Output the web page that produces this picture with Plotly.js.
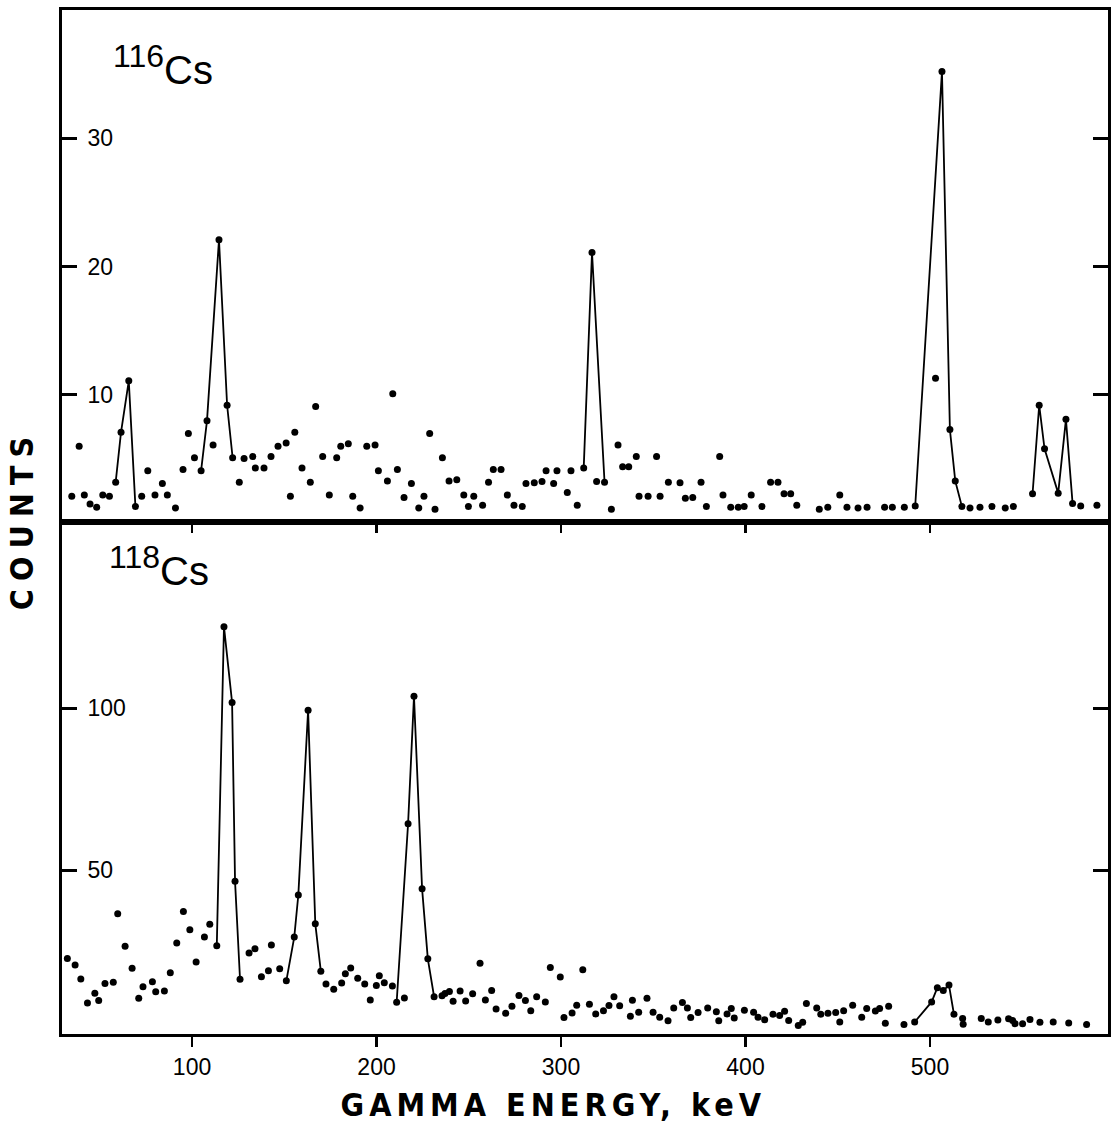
<!DOCTYPE html>
<html>
<head>
<meta charset="utf-8">
<script src="https://cdn.plot.ly/plotly-3.0.1.min.js"></script>
<style>html,body{margin:0;padding:0;background:#fff}#chart{width:1112px;height:1129px}</style>
</head>
<body>
<div id="chart"></div>
<script>
// ---- 116Cs spectrum (top panel) ----
const energy116 = [34.8,38.8,41.6,44.7,48.3,51.6,55.2,58.6,61.5,65.7,69.3,72.7,76.0,79.9,83.9,86.6,91.0,95.1,98.0,101.3,104.9,108.1,111.4,114.6,119.0,122.0,125.6,128.2,132.9,134.3,139.0,142.8,146.6,151.0,153.3,155.7,159.6,164.1,167.0,170.8,174.4,178.4,180.6,184.7,187.1,191.1,194.7,199.2,201.0,205.9,208.8,211.3,214.9,218.9,222.9,225.7,228.8,231.7,235.7,239.3,243.5,247.3,249.8,252.7,257.5,260.7,263.3,267.5,270.9,274.5,279.0,281.0,285.5,289.7,291.9,296.0,297.8,303.4,305.4,308.8,312.3,316.8,319.3,323.6,327.3,330.9,333.4,336.7,340.8,342.3,347.2,351.8,353.7,358.2,364.5,367.4,371.4,375.9,378.8,386.0,387.8,392.0,396.1,399.3,403.1,408.9,413.6,417.6,420.9,424.5,427.8,440.0,444.6,451.1,455.0,461.0,465.9,475.4,479.6,486.1,492.0,503.0,506.5,510.8,513.7,517.3,521.7,527.1,533.6,540.8,545.2,555.6,559.2,562.1,569.5,573.7,577.3,581.7,590.5];
const counts116 = [2.1,6.0,2.2,1.5,1.25,2.2,2.1,3.2,7.1,11.1,1.3,2.1,4.1,2.2,3.1,2.2,1.2,4.2,7.0,5.1,4.1,8.0,6.1,22.1,9.2,5.1,3.2,5.05,5.2,4.3,4.3,5.2,6.0,6.25,2.1,7.1,4.3,3.2,9.1,5.2,2.2,5.1,6.0,6.2,2.1,1.2,6.0,6.1,4.1,3.3,10.1,4.2,2.0,3.1,1.2,2.1,7.0,1.1,5.1,3.3,3.4,2.2,1.3,2.1,1.4,3.2,4.2,4.2,2.2,1.4,1.3,3.1,3.15,3.25,4.1,3.1,4.1,2.4,4.1,1.4,4.3,21.1,3.25,3.2,1.1,6.1,4.4,4.4,5.2,2.1,2.1,5.2,2.1,3.2,3.15,1.95,2.0,3.2,1.3,5.2,2.2,1.25,1.25,1.3,2.2,1.3,3.2,3.2,2.3,2.3,1.4,1.1,1.25,2.2,1.25,1.2,1.25,1.25,1.25,1.25,1.35,11.3,35.2,7.3,3.3,1.3,1.2,1.25,1.3,1.2,1.3,2.3,9.2,5.8,2.35,8.1,1.55,1.35,1.4];
// peak lines (116Cs)
const peakE116 = [[58.6,61.5,65.7,69.3],[104.9,108.1,114.6,119.0,122.0],[312.3,316.8,323.6],[492.0,506.5,510.8,513.7,517.3],[555.6,559.2,562.1,569.5,573.7,577.3]];
const peakC116 = [[3.2,7.1,11.1,1.3],[4.1,8.0,22.1,9.2,5.1],[4.3,21.1,3.2],[1.35,35.2,7.3,3.3,1.3],[2.3,9.2,5.8,2.35,8.1,1.55]];

// ---- 118Cs spectrum (bottom panel) ----
const energy118 = [32.4,36.6,39.7,43.3,47.3,49.4,52.8,57.3,59.7,63.7,67.5,71.1,73.4,78.5,80.3,85.0,88.2,91.7,95.3,98.8,102.2,106.7,109.6,113.4,117.3,121.7,123.3,126.0,130.9,134.1,137.6,141.4,143.0,147.5,151.1,155.4,157.6,162.9,166.8,169.8,172.6,176.8,181.1,183.1,186.0,189.8,193.6,196.6,199.9,201.5,204.2,208.6,210.9,215.1,217.1,220.3,224.7,227.8,231.2,235.5,237.1,239.5,241.5,245.3,248.3,252.1,256.1,259.0,262.4,264.8,270.0,273.4,277.2,280.7,283.6,286.8,291.5,294.2,299.6,301.6,306.0,308.5,311.8,315.4,318.8,323.0,326.0,328.7,331.8,337.6,338.7,342.1,346.6,349.9,353.5,358.0,361.1,365.8,368.5,370.3,374.3,379.5,384.2,385.5,390.0,392.3,393.9,399.4,404.4,406.8,410.4,414.9,418.5,421.2,423.4,428.6,431.0,433.0,438.6,440.8,444.7,448.9,451.1,453.2,458.1,463.0,465.7,470.4,472.7,475.8,477.6,485.9,491.7,500.9,504.0,507.2,510.3,513.0,517.7,518.0,527.8,531.6,536.8,542.6,544.8,546.1,550.2,554.2,559.6,566.8,575.2,584.9];
const counts118 = [22.8,20.8,16.5,9.1,12.1,9.8,15.1,15.5,36.6,26.6,19.8,10.5,14.1,15.6,12.5,12.8,18.4,27.6,37.3,31.7,21.7,29.4,33.4,26.7,125.2,101.8,46.6,16.4,24.5,25.8,17.2,19.0,27.0,19.6,15.9,29.4,42.4,99.4,33.5,18.9,14.9,13.3,15.2,18.1,19.9,16.7,14.9,10.0,14.5,17.5,15.3,14.3,9.3,10.6,64.4,103.7,44.3,22.7,11.0,11.3,12.0,12.6,9.6,12.8,9.7,11.9,21.3,10.0,12.9,7.2,5.9,8.1,11.4,9.8,6.7,11.0,9.4,20.0,17.1,4.6,6.0,8.4,19.3,8.7,5.7,6.7,8.3,11.0,8.2,5.0,9.9,6.2,10.5,6.2,4.7,3.6,7.5,9.2,7.5,4.6,6.1,7.5,6.4,3.6,5.7,7.4,4.4,6.8,6.2,4.7,3.9,5.6,5.2,6.5,3.7,2.1,3.1,8.9,7.5,5.6,5.9,6.1,3.2,6.7,8.4,4.7,7.4,6.6,7.4,2.8,8.1,2.4,3.2,9.4,13.8,12.9,14.6,5.6,4.3,2.5,4.3,3.2,3.8,4.2,3.7,2.7,2.7,4.0,3.1,3.2,2.9,2.4];
// peak lines (118Cs)
const peakE118 = [[113.4,117.3,121.7,123.3,126.0],[151.1,155.4,157.6,162.9,166.8,169.8],[210.9,217.1,220.3,224.7,227.8,231.2],[491.7,500.9,504.0,507.2,510.3,513.0]];
const peakC118 = [[26.7,125.2,101.8,46.6,16.4],[15.9,29.4,42.4,99.4,33.5,18.9],[9.3,64.4,103.7,44.3,22.7,11.0],[3.2,9.4,13.8,12.9,14.6,5.6]];

// ticks and labels
const xTicks = [100,200,300,400,500];
const yTicks116 = [10,20,30];
const yTicks118 = [50,100];
const isotope116 = "116";
const isotope118 = "118";
const element = "Cs";
const xTitle = "GAMMA ENERGY, keV";
const yTitle = "COUNTS";

const traces = [];
const lineStyle = {color:'#000', width:1.8};
const dotStyle = {color:'#000', size:7};
peakE116.forEach((e,i)=>traces.push({x:e,y:peakC116[i],xaxis:'x2',yaxis:'y2',mode:'lines',line:lineStyle,hoverinfo:'skip',showlegend:false}));
traces.push({x:energy116,y:counts116,xaxis:'x2',yaxis:'y2',mode:'markers',marker:dotStyle,showlegend:false});
peakE118.forEach((e,i)=>traces.push({x:e,y:peakC118[i],xaxis:'x',yaxis:'y',mode:'lines',line:lineStyle,hoverinfo:'skip',showlegend:false}));
traces.push({x:energy118,y:counts118,xaxis:'x',yaxis:'y',mode:'markers',marker:dotStyle,showlegend:false});

const tickFont = {family:'Liberation Sans, Arial, sans-serif', size:23, color:'#000'};
const titleFont = {family:'Liberation Sans Narrow, DejaVu Sans Condensed, Liberation Sans, sans-serif', size:32, color:'#000', weight:'bold'};
const isoLabel = iso => "<sup><span style='font-size:32px'>" + iso + "</span></sup>" + element;
const split = 0.5;
const layout = {
  width:1112, height:1129,
  margin:{l:62, r:4, t:10, b:95},
  paper_bgcolor:'#fff', plot_bgcolor:'#fff',
  showlegend:false,
  xaxis:{domain:[0,1], anchor:'y', range:[29.5,596.5], tickvals:xTicks, ticks:'outside', ticklen:10, tickwidth:2.5, tickcolor:'#000',
         showline:true, linewidth:3, linecolor:'#000', mirror:true, showgrid:false, zeroline:false, tickfont:tickFont},
  xaxis2:{domain:[0,1], anchor:'y2', matches:'x', range:[29.5,596.5], tickvals:xTicks, ticks:'outside', ticklen:8, tickwidth:2.5, tickcolor:'#000',
         showticklabels:false, showline:true, linewidth:3, linecolor:'#000', mirror:true, showgrid:false, zeroline:false},
  yaxis:{domain:[0,split], anchor:'x', range:[-0.5,157.5], tickvals:yTicks118, ticks:'inside', ticklen:15, tickwidth:3, tickcolor:'#000',
         ticklabelposition:'inside', ticklabelstandoff:12, showline:true, linewidth:3, linecolor:'#000', mirror:'ticks', showgrid:false, zeroline:false, tickfont:tickFont},
  yaxis2:{domain:[split,1], anchor:'x2', range:[0.1,40], tickvals:yTicks116, ticks:'inside', ticklen:15, tickwidth:3, tickcolor:'#000',
         ticklabelposition:'inside', ticklabelstandoff:12, showline:true, linewidth:3, linecolor:'#000', mirror:'ticks', showgrid:false, zeroline:false, tickfont:tickFont},
  annotations:[
    {text:isoLabel(isotope116), xref:'paper', yref:'paper', x:0.047, y:0.946, xanchor:'left', yanchor:'middle', showarrow:false,
     font:{family:'Liberation Sans, Arial, sans-serif', size:40, color:'#000'}},
    {text:isoLabel(isotope118), xref:'paper', yref:'paper', x:0.043, y:0.457, xanchor:'left', yanchor:'middle', showarrow:false,
     font:{family:'Liberation Sans, Arial, sans-serif', size:40, color:'#000'}},
    {text:xTitle, xref:'paper', yref:'paper', x:0.47, y:-0.069, xanchor:'center', yanchor:'middle', showarrow:false, font:titleFont},
    {text:yTitle, xref:'paper', yref:'paper', x:-0.038, y:0.502, xanchor:'center', yanchor:'middle', textangle:-90, showarrow:false, font:titleFont}
  ]
};
Plotly.newPlot('chart', traces, layout, {staticPlot:true, displayModeBar:false}).then(()=>{
  document.querySelectorAll('.annotation-text').forEach(t=>{
    const s = t.textContent;
    if (s===xTitle) t.style.letterSpacing='5px';
    if (s===yTitle) t.style.letterSpacing='8px';
  });
});
</script>
</body>
</html>
